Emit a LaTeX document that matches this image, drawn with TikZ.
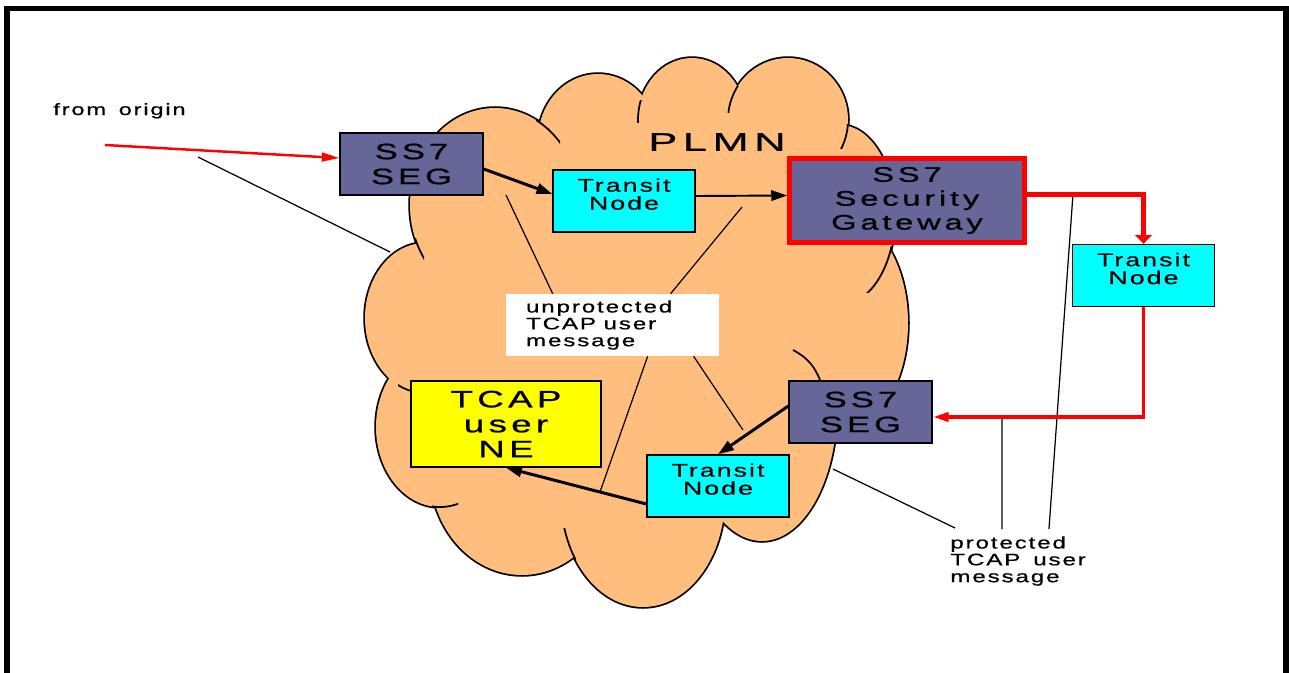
\documentclass[tikz,border=0pt]{standalone}
\usepackage{fontspec}
\setmainfont{Liberation Sans}[FakeStretch=1.45, LetterSpace=11, WordSpace=1.5, FakeBold=0.6]
\newfontfamily\bigfont{Liberation Sans}[FakeStretch=1.55, LetterSpace=18, WordSpace=1.5, FakeBold=0.8]
\newfontfamily\plmnfont{Liberation Sans}[FakeStretch=1.7, LetterSpace=22, FakeBold=0.8]
\usetikzlibrary{arrows.meta, positioning}
\definecolor{cloudfill}{RGB}{255,190,125}
\definecolor{segblue}{RGB}{102,102,153}
\definecolor{transitcyan}{RGB}{0,255,255}
\definecolor{neyellow}{RGB}{255,255,0}

\begin{document}
\begin{tikzpicture}[x=0.02cm, y=-0.02cm,
    box/.style={draw, rectangle, line width=0.8pt, inner sep=0pt, align=center},
    seg/.style={box, fill=segblue, minimum width=2.86cm, minimum height=1.24cm, font=\bigfont\fontsize{12.7}{14.2}\selectfont},
    gateway/.style={box, fill=segblue, draw=red, line width=2.8pt, minimum width=4.7cm, minimum height=1.68cm, font=\bigfont\fontsize{12}{13.6}\selectfont},
    transit/.style={box, fill=transitcyan, minimum width=2.84cm, minimum height=1.24cm, text depth=8pt, font=\fontsize{10.5}{10.2}\selectfont},
    usernode/.style={box, fill=neyellow, minimum width=3.8cm, minimum height=1.72cm, font=\bigfont\fontsize{13.5}{14.2}\selectfont},
    msg/.style={inner sep=0pt, align=left, font=\fontsize{9.5}{9.6}\selectfont},
    callout/.style={line width=0.7pt},
    blackarrow/.style={line width=1.7pt, -{Triangle[length=9pt, width=6pt]}},
    redarrow/.style={red, line width=1.4pt, -{Triangle[length=10pt, width=5pt]}},
    redthick/.style={red, line width=2.8pt, -{Triangle[length=5pt, width=9.5pt]}}]
    \useasboundingbox (0,0) rectangle (1289,673);

    % frame
    \draw[line width=3pt] (7,690) -- (7,8.5) -- (1286,8.5) -- (1286,690);

    % cloud
    \def\bumps{495/205/85/97, 598/140/60/66, 692/120/54/62, 788/120/60/62, 840/215/55/90, 840/323/68/108,
        762/407/75/134, 643/497/82/110, 522/470/92/105, 440/427/64/80, 425/318/60/75}
    \foreach \cx/\cy/\rx/\ry in \bumps
        \draw[line width=2pt] (\cx,\cy) ellipse[x radius=\rx, y radius=\ry];
    \foreach \cx/\cy/\rx/\ry in \bumps
        \fill[cloudfill] (\cx,\cy) ellipse[x radius=\rx, y radius=\ry];
    \fill[cloudfill] (495,205) -- (598,140) -- (692,120) -- (788,120) -- (840,215) -- (840,323)
        -- (762,407) -- (643,497) -- (522,470) -- (440,427) -- (425,318) -- cycle;
    \foreach \cx/\cy/\rx/\ry/\ax/\ay/\bx/\by in {495/205/85/97/536/116/560/146, 692/120/54/62/634/100/650/122,
        788/120/60/62/722/86/742/112, 788/120/60/62/836/124/852/148, 840/215/55/90/866/246/896/292,
        643/497/82/110/556/528/576/562, 440/427/64/80/432/494/458/510, 425/318/60/75/398/380/420/396,
        495/205/85/97/404/238/424/266}
    {
        \begin{scope}
            \clip (\ax,\ay) rectangle (\bx,\by);
            \draw[line width=1pt] (\cx,\cy) ellipse[x radius=\rx, y radius=\ry];
        \end{scope}
    }
    \draw[line width=1pt] (793,350) to[bend left=20] (820,380);

    % nodes
    \node[seg] (seg1) at (411.5,164) {SS7\\SEG};
    \node[transit] (tn1) at (624,201) {Transit\\Node};
    \node[gateway] (gw) at (907,200.5) {SS7\\Security\\Gateway};
    \node[transit] (tn2) at (1143.5,275.5) {Transit\\Node};
    \node[seg] (seg2) at (860.5,412) {SS7\\SEG};
    \node[transit] (tn3) at (718,486) {Transit\\Node};
    \node[usernode] (ne) at (506,424) {TCAP\\user\\NE};
    \node[font=\plmnfont\fontsize{14.5}{17}\selectfont] (plmn) at (717,142) {PLMN};
    \node[anchor=base west, inner sep=0pt, font=\fontsize{9.3}{11}\selectfont] (origin) at (53,115) {from origin};
    \node[msg, fill=white, minimum width=4.26cm, minimum height=1.24cm, text width=3.46cm, inner xsep=0.4cm] (unprot) at (612.5,325) {unprotected\\TCAP\hspace{0.45em}user\\message};
    \node[msg, anchor=north west] (prot) at (950,536) {protected\\TCAP user\\message};

    % callout lines
    \coordinate (c0) at (198,157);
    \coordinate (c0e) at (390,252);
    \coordinate (u1) at (506,195);
    \coordinate (u2) at (742,207);
    \coordinate (u3) at (600,492);
    \coordinate (u4) at (743,430);
    \coordinate (p1) at (833,469);
    \coordinate (p2) at (1002,417);
    \coordinate (p3) at (1073,194);
    \draw[callout] (c0) -- (c0e);
    \draw[callout] (u1) -- ([xshift=0.94cm]unprot.north west);
    \draw[callout] (u2) -- ([xshift=3.3cm]unprot.north west);
    \draw[callout] ([xshift=2.84cm]unprot.south west) -- (u3);
    \draw[callout] ([xshift=3.76cm]unprot.south west) -- (u4);
    \draw[callout] (p1) -- ([xshift=0.1cm, yshift=0.16cm]prot.north west);
    \draw[callout] (p2) -- ([xshift=1.04cm, yshift=0.14cm]prot.north west);
    \draw[callout] (p3) -- ([xshift=1.98cm, yshift=0.14cm]prot.north west);

    % message path
    \coordinate (orig) at (105,145);
    \draw[redarrow] (orig) -- ([yshift=0.12cm]seg1.west);
    \draw[blackarrow] ([yshift=-0.1cm]seg1.east) -- ([yshift=0.14cm]tn1.west);
    \draw[blackarrow, line width=1.1pt] ([yshift=0.1cm]tn1.east) -- ([yshift=0.1cm]gw.west);
    \draw[redthick] ([yshift=0.12cm]gw.east) -| (tn2.north);
    \draw[redthick, line width=2.2pt, -{Triangle[length=9pt, width=5pt]}] (tn2.south) |- ([yshift=-0.1cm]seg2.east);
    \draw[blackarrow] ([yshift=0.12cm]seg2.west) -- (tn3.north);
    \draw[blackarrow] ([yshift=-0.36cm]tn3.west) -- (ne.south);
\end{tikzpicture}
\end{document}
